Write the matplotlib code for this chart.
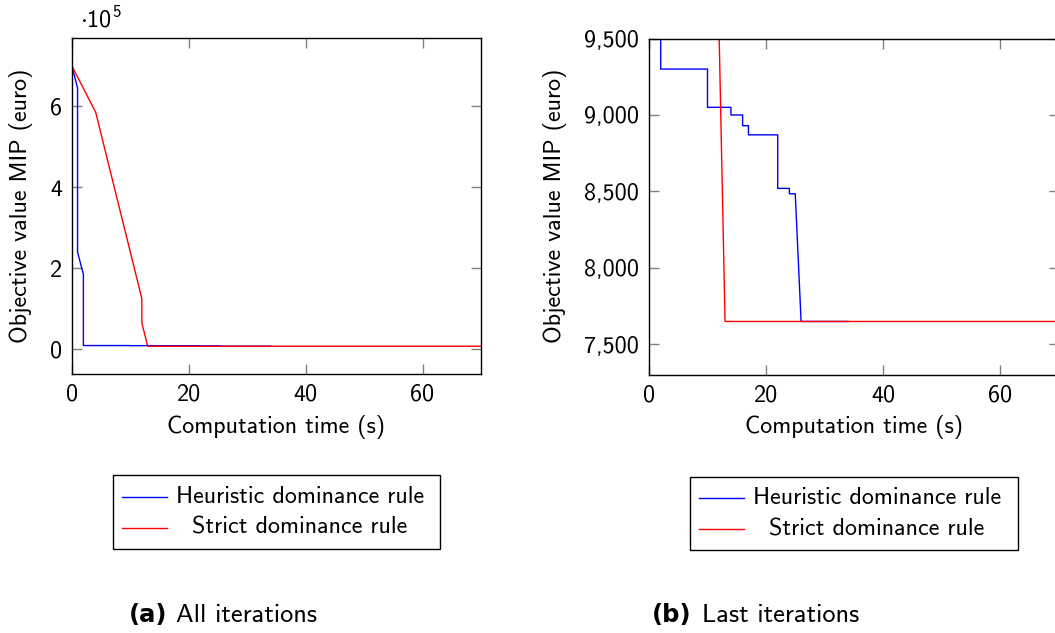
import matplotlib
matplotlib.use("Agg")
import matplotlib.pyplot as plt
from matplotlib.lines import Line2D
from matplotlib.patches import Rectangle
from matplotlib.ticker import FuncFormatter

# data (time in s, objective in euro)
heur_t = [0, 1, 1, 2, 2, 10, 10, 14, 14, 16, 16, 17, 17, 22, 22, 24, 24, 25, 26, 34]
heur_v = [700000, 645000, 240000, 185000, 9300, 9300, 9050, 9050, 9000, 9000,
          8930, 8930, 8870, 8870, 8520, 8520, 8485, 8485, 7650, 7650]

strict_t_all = [0, 4.1, 12, 12, 13, 70]
strict_v_all = [700000, 585000, 125000, 65000, 7650, 7650]

strict_t_last = [12, 13, 70]
strict_v_last = [9500, 7650, 7650]

legend_labels = ["Heuristic dominance rule", "Strict dominance rule"]
captions = [("(a)", "All iterations"), ("(b)", "Last iterations")]

W, H = 1055, 633
FS = 17.3

plt.rcParams["font.family"] = ["cmss10", "DejaVu Sans"]
plt.rcParams["mathtext.fontset"] = "custom"
plt.rcParams["mathtext.rm"] = "cmss10"
plt.rcParams["mathtext.default"] = "regular"
plt.rcParams["axes.unicode_minus"] = False
plt.rcParams["font.size"] = FS


def px(x, y):
    return x / W, 1 - y / H


fig = plt.figure(figsize=(W / 100, H / 100), dpi=100)


def make_axes(left, top, right, bottom):
    x0, y0 = px(left, bottom)
    x1, y1 = px(right, top)
    ax = fig.add_axes([x0, y0, x1 - x0, y1 - y0])
    ax.tick_params(direction="in", length=7, width=1, color="#808080",
                   top=True, right=True, labelsize=FS)
    ax.tick_params(axis="x", pad=7)
    ax.tick_params(axis="y", pad=7)
    for s in ax.spines.values():
        s.set_linewidth(1)
    return ax


# (a) all iterations
ax1 = make_axes(71.7, 37.5, 481, 374)
ax1.plot(heur_t, heur_v, color="blue", lw=1)
ax1.plot(strict_t_all, strict_v_all, color="red", lw=1)
ax1.set_xlim(0, 70)
ax1.set_ylim(-0.609e5, 7.694e5)
ax1.set_xticks([0, 20, 40, 60])
ax1.set_yticks([0, 2e5, 4e5, 6e5])
ax1.yaxis.set_major_formatter(FuncFormatter(lambda v, p: f"{v / 1e5:.0f}"))
fig.text(*px(80, 28), r"$\cdot10^{5}$", fontsize=FS, va="baseline", ha="left")

# (b) last iterations
ax2 = make_axes(649, 38.5, 1058.5, 375)
ax2.plot(heur_t, heur_v, color="blue", lw=1)
ax2.plot(strict_t_last, strict_v_last, color="red", lw=1)
ax2.set_xlim(0, 70)
ax2.set_ylim(7300, 9500)
ax2.set_xticks([0, 20, 40, 60])
ax2.set_yticks([7500, 8000, 8500, 9000, 9500])
ax2.yaxis.set_major_formatter(FuncFormatter(lambda v, p: f"{v:,.0f}"))

# axis labels
for cx, ylx in [(276, 21.5), (853.7, 555)]:
    fig.text(*px(cx, 427), "Computation time (s)", ha="center", va="center", fontsize=FS)
    fig.text(*px(ylx, 206), "Objective value MIP (euro)", ha="center", va="center",
             rotation=90, fontsize=FS)


# legends, drawn by hand so the entries are centred like pgfplots
def draw_legend(box, line_x, rows_y, text_cx):
    x0, y0 = px(box[0], box[3])
    x1, y1 = px(box[2], box[1])
    fig.patches.append(Rectangle((x0, y0), x1 - x0, y1 - y0, transform=fig.transFigure,
                                 fill=False, edgecolor="black", lw=1))
    for label, col, yy in zip(legend_labels, ["blue", "red"], rows_y):
        a, b = px(line_x[0], yy)
        c, _ = px(line_x[1], yy)
        fig.add_artist(Line2D([a, c], [b, b], color=col, lw=1, transform=fig.transFigure))
        fig.text(*px(text_cx, yy), label, ha="center", va="center", fontsize=FS)


draw_legend((113, 475, 440, 548.5), (122, 167), (496.7, 527.7), 300)
draw_legend((690, 476.5, 1017.5, 549.5), (699, 744), (497.7, 529), 877)

# captions
for (tag, text), xtag in zip(captions, [(167, 176), (692, 702)]):
    fig.text(*px(xtag[0], 621.7), tag, ha="right", va="baseline", fontsize=17.5,
             family="DejaVu Sans", weight="bold")
    fig.text(*px(xtag[1], 621.7), text, ha="left", va="baseline", fontsize=19)

fig.savefig("out.png", dpi=100)
